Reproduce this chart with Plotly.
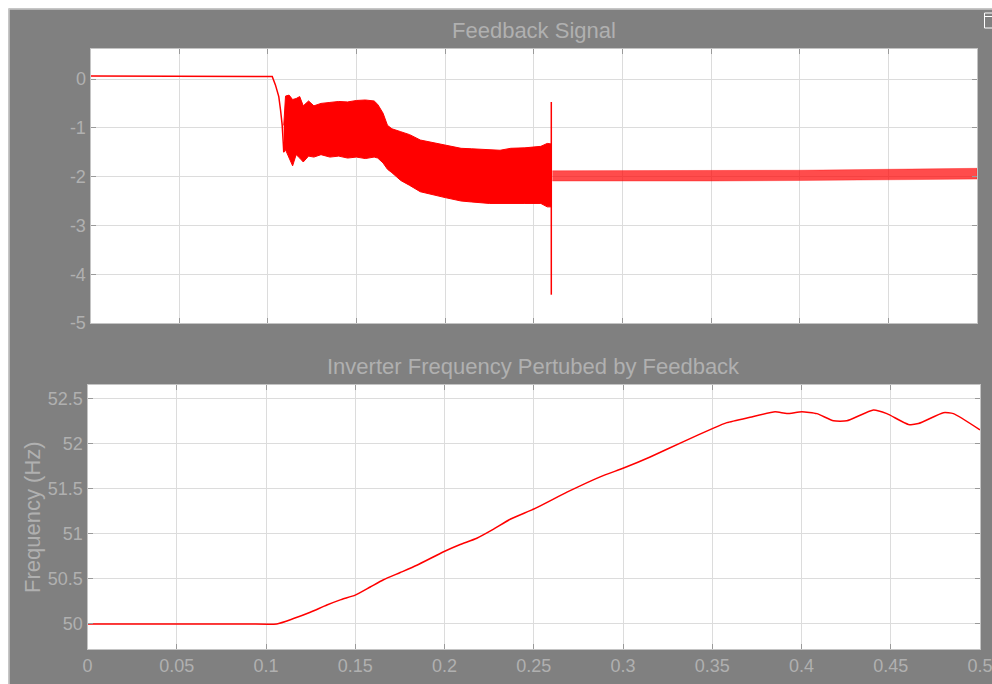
import plotly.graph_objects as go

W, H = 992, 684
OFF = 0  # page body margin removed below: figure origin at window origin

# ---------------- data ----------------
# Feedback signal: initial level and fall-off (line)
fb_t = [0.0, 0.100, 0.1025, 0.1043, 0.1062, 0.1072, 0.1081, 0.1087, 0.1090]
fb_v = [0.06, 0.06, 0.05, -0.12, -0.36, -0.64, -0.94, -1.30, -1.50]

# Feedback signal: envelope of the fast oscillation band (0.109 s .. 0.26 s)
band_t = [0.1090, 0.1100, 0.1120, 0.1140, 0.1160, 0.1180, 0.1200, 0.1230, 0.1260,
          0.1300, 0.1350, 0.1400, 0.1450, 0.1500, 0.1550, 0.1600, 0.1620, 0.1650,
          0.1675, 0.1700, 0.1750, 0.1800, 0.1860, 0.1935, 0.2000, 0.2090, 0.2150,
          0.2250, 0.2310, 0.2370, 0.2450, 0.2540, 0.2576, 0.2598]
band_hi = [-0.95, -0.35, -0.33, -0.42, -0.40, -0.36, -0.55, -0.45, -0.55,
           -0.50, -0.48, -0.46, -0.47, -0.44, -0.43, -0.45, -0.52, -0.70,
           -0.95, -1.02, -1.08, -1.14, -1.25, -1.31, -1.36, -1.42, -1.43,
           -1.45, -1.46, -1.42, -1.41, -1.38, -1.32, -1.33]
band_lo = [-1.50, -1.45, -1.60, -1.78, -1.55, -1.62, -1.70, -1.58, -1.60,
           -1.55, -1.60, -1.58, -1.62, -1.60, -1.63, -1.60, -1.62, -1.72,
           -1.85, -1.92, -2.08, -2.18, -2.31, -2.38, -2.43, -2.50, -2.52,
           -2.55, -2.56, -2.55, -2.55, -2.55, -2.62, -2.62]

# Spike at breaker event
spike_t = [0.2599, 0.2599]
spike_v = [-0.47, -4.42]

# Ripple envelope after the event
rip_t = [0.2605, 0.300, 0.350, 0.400, 0.450, 0.500]
rip_hi = [-1.88, -1.88, -1.87, -1.87, -1.85, -1.83]
rip_lo = [-2.09, -2.09, -2.09, -2.08, -2.07, -2.05]

# Inverter frequency
freq_t = [0.0, 0.05, 0.09, 0.106, 0.1154, 0.1248, 0.1341, 0.142, 0.150, 0.1584, 0.1658, 0.1752,
          0.1845, 0.1995, 0.2088, 0.2181, 0.2275, 0.2368, 0.2508, 0.2686, 0.2872,
          0.3007, 0.3152, 0.3339, 0.3507, 0.3582, 0.3712, 0.3852, 0.3918, 0.4002,
          0.4086, 0.4179, 0.4254, 0.4403, 0.4478, 0.4599, 0.4655, 0.4795, 0.4851, 0.500]
freq_v = [50.0, 50.0, 50.0, 50.0, 50.06, 50.13, 50.21, 50.27, 50.32, 50.41, 50.49, 50.57,
          50.65, 50.80, 50.88, 50.95, 51.05, 51.16, 51.28, 51.46, 51.63,
          51.73, 51.85, 52.02, 52.17, 52.23, 52.29, 52.35, 52.33, 52.35,
          52.33, 52.25, 52.25, 52.37, 52.33, 52.21, 52.22, 52.34, 52.33, 52.15]

x_ticks = [0, 0.05, 0.1, 0.15, 0.2, 0.25, 0.3, 0.35, 0.4, 0.45, 0.5]
x_tick_text = ["0", "0.05", "0.1", "0.15", "0.2", "0.25", "0.3", "0.35", "0.4", "0.45", "0.5"]
y1_ticks = [0, -1, -2, -3, -4, -5]
y2_ticks = [50, 50.5, 51, 51.5, 52, 52.5]
y2_tick_text = ["50", "50.5", "51", "51.5", "52", "52.5"]

title_top = "Feedback Signal"
title_bottom = "Inverter Frequency Pertubed by Feedback"
ylabel_bottom = "Frequency (Hz)"

# ---------------- style ----------------
RED = "#ff0000"
GRAY_BG = "#808080"
TXT = "#b0b0b0"
GRID = "#dcdcdc"
FONT = "Liberation Sans, Arial, sans-serif"


def px(x):
    return (x - OFF) / W


def py(y):
    return 1 - (y - OFF) / H


fig = go.Figure()

# top plot traces
fig.add_trace(go.Scatter(x=fb_t, y=fb_v, mode="lines", line=dict(color=RED, width=1.5),
                         xaxis="x", yaxis="y", showlegend=False, hoverinfo="skip"))
fig.add_trace(go.Scatter(x=band_t + band_t[::-1], y=band_hi + band_lo[::-1], mode="lines",
                         fill="toself", fillcolor=RED, line=dict(color=RED, width=1),
                         xaxis="x", yaxis="y", showlegend=False, hoverinfo="skip"))
fig.add_trace(go.Scatter(x=spike_t, y=spike_v, mode="lines", line=dict(color=RED, width=1.5),
                         xaxis="x", yaxis="y", showlegend=False, hoverinfo="skip"))
fig.add_trace(go.Scatter(x=rip_t + rip_t[::-1], y=rip_hi + rip_lo[::-1], mode="lines",
                         fill="toself", fillcolor="rgba(255,0,0,0.7)",
                         line=dict(color="rgba(255,0,0,0.7)", width=0.5),
                         xaxis="x", yaxis="y", showlegend=False, hoverinfo="skip"))

# bottom plot trace
fig.add_trace(go.Scatter(x=freq_t, y=freq_v, mode="lines",
                         line=dict(color=RED, width=1.5, shape="spline", smoothing=0.5),
                         xaxis="x2", yaxis="y2", showlegend=False, hoverinfo="skip"))

axis_common = dict(
    showgrid=True, gridcolor=GRID, gridwidth=1,
    zeroline=False,
    showline=True, linecolor="#c4c4c4", linewidth=1, mirror="ticks",
    ticks="inside", ticklen=5, tickcolor="#9a9a9a", tickwidth=1,
    tickfont=dict(family=FONT, size=18, color=TXT),
    ticklabeloverflow="allow",
    automargin=False, fixedrange=True,
)

fig.update_layout(
    width=W, height=H,
    margin=dict(l=0, r=0, t=0, b=0),
    paper_bgcolor=GRAY_BG,
    plot_bgcolor="white",
    xaxis=dict(axis_common, domain=[px(90.5), px(977)], range=[0, 0.5],
               tickvals=x_ticks, showticklabels=False, anchor="y"),
    yaxis=dict(axis_common, domain=[py(323), py(49)], range=[-5, 0.615],
               tickvals=y1_ticks, ticktext=[str(v) for v in y1_ticks], anchor="x"),
    xaxis2=dict(axis_common, domain=[px(87.5), px(980)], range=[0, 0.5],
                tickvals=x_ticks, ticktext=x_tick_text, anchor="y2"),
    yaxis2=dict(axis_common, domain=[py(649), py(385)], range=[49.723, 52.647],
                tickvals=y2_ticks, ticktext=y2_tick_text, anchor="x2"),
    showlegend=False,
    annotations=[
        dict(text=title_top, x=px(533.5), y=py(31), xref="paper", yref="paper",
             showarrow=False, xanchor="center", yanchor="middle",
             font=dict(family=FONT, size=22, color=TXT)),
        dict(text=title_bottom, x=px(533.5), y=py(366), xref="paper", yref="paper",
             showarrow=False, xanchor="center", yanchor="middle",
             font=dict(family=FONT, size=22, color=TXT)),
        dict(text=ylabel_bottom, x=px(32), y=py(517), xref="paper", yref="paper",
             showarrow=False, xanchor="center", yanchor="middle", textangle=-90,
             font=dict(family=FONT, size=22, color=TXT)),
    ],
    shapes=[
        # white window strips (top and left)
        dict(type="rect", xref="paper", yref="paper", x0=0, x1=1, y0=py(8.5), y1=1,
             fillcolor="white", line=dict(width=0), layer="below"),
        dict(type="rect", xref="paper", yref="paper", x0=0, x1=px(8.5), y0=0, y1=1,
             fillcolor="white", line=dict(width=0), layer="below"),
        # light border of the gray panel
        dict(type="line", xref="paper", yref="paper", x0=px(8.5), x1=1, y0=py(9), y1=py(9),
             line=dict(color="#c8c8c8", width=1.5)),
        dict(type="line", xref="paper", yref="paper", x0=px(9), x1=px(9), y0=0, y1=py(9),
             line=dict(color="#c8c8c8", width=1.5)),
        # small dock icon top-right
        dict(type="rect", xref="paper", yref="paper", x0=px(984.5), x1=px(993), y0=py(28), y1=py(13),
             fillcolor="rgba(0,0,0,0)", line=dict(color="white", width=1)),
        dict(type="line", xref="paper", yref="paper", x0=px(984.5), x1=px(993), y0=py(16.5), y1=py(16.5),
             line=dict(color="white", width=1)),
    ],
)

# remove the default page margin and scrollbars so the figure fills the window exactly
fig.write_html(
    "out.html",
    config={"displayModeBar": False},
    post_script="document.body.style.margin='0';"
                "document.documentElement.style.overflow='hidden';"
                "document.body.style.overflow='hidden';",
)
